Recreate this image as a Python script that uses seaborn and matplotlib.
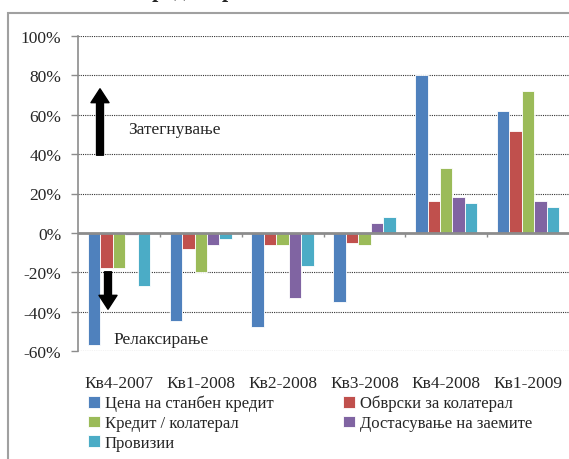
import pandas as pd
import matplotlib
matplotlib.use('Agg')
import matplotlib.pyplot as plt
from matplotlib.patches import Rectangle
from matplotlib.ticker import FuncFormatter
import seaborn as sns

# Podatoci
kvartali = ['Кв4-2007', 'Кв1-2008', 'Кв2-2008', 'Кв3-2008', 'Кв4-2008', 'Кв1-2009']
serii = ['Цена на станбен кредит', 'Обврски за колатерал', 'Кредит / колатерал',
         'Достасување на заемите', 'Провизии']
cena = [-57, -45, -48, -35, 80, 62]
obvrski = [-18, -8, -6, -5, 16, 52]
kredit_kol = [-18, -20, -6, -6, 33, 72]
dostasuvanje = [-1, -6, -33, 5, 18, 16]
provizii = [-27, -3, -17, 8, 15, 13]
boi = ['#4F81BD', '#C0504D', '#9BBB59', '#8064A2', '#4BACC6']

redovi = []
for s, vals in zip(serii, [cena, obvrski, kredit_kol, dostasuvanje, provizii]):
    for k, v in zip(kvartali, vals):
        redovi.append({'kvartal': k, 'serija': s, 'vrednost': v})
df = pd.DataFrame(redovi)

sns.set_style('white')
plt.rcParams['font.family'] = ['Liberation Serif', 'DejaVu Serif']

fig = plt.figure(figsize=(5.69, 4.60), dpi=100)
ax = fig.add_axes([78 / 569, 1 - 352 / 460, 1 - 78 / 569, (352 - 37) / 460])

sns.barplot(data=df, x='kvartal', y='vrednost', hue='serija', order=kvartali,
            hue_order=serii, palette=boi, width=0.76, saturation=1,
            edgecolor='white', linewidth=0.6, ax=ax)

ax.set_ylim(-60, 100)
ax.set_xlim(-0.5, 5.5)
ax.set_yticks(range(-60, 101, 20))
ax.yaxis.set_major_formatter(FuncFormatter(lambda v, p: f'{int(v)}%'))
for y in range(-60, 101, 20):
    if y != 0:
        ax.axhline(y, color='#333333', lw=0.8, ls=(0, (1, 1)), zorder=0)
ax.axhline(0, color='#8C8C8C', lw=2, zorder=3)
ax.vlines([0.5, 1.5, 2.5, 3.5, 4.5], -2, 0, color='#8C8C8C', lw=1, zorder=3)

for sp in ['top', 'right', 'bottom']:
    ax.spines[sp].set_visible(False)
ax.spines['left'].set_color('#8C8C8C')
ax.spines['left'].set_linewidth(1.2)
ax.tick_params(axis='y', length=5, width=1, color='#8C8C8C', labelsize=12.5, left=True, pad=7)
ax.tick_params(axis='x', length=0, pad=17, labelsize=12.5)
ax.set_xlabel('')
ax.set_ylabel('')

# Legenda, red po red
h, l = ax.get_legend_handles_labels()
red = [0, 2, 4, 1, 3]
ax.legend([h[i] for i in red], [l[i] for i in red],
          loc='upper left', bbox_to_anchor=(88 / 569, 1 - 396 / 460),
          bbox_transform=fig.transFigure, ncol=2, frameon=False, fontsize=12,
          handlelength=0.7, handleheight=0.7, handletextpad=0.3,
          columnspacing=4.2, labelspacing=0.22, borderaxespad=0, borderpad=0)

# Strelki i tekst
stil = 'simple,head_width=1.3,head_length=1.0,tail_width=0.5'
ax.annotate('', xy=(100, 373), xytext=(100, 301), xycoords='figure pixels',
            textcoords='figure pixels',
            arrowprops=dict(arrowstyle=stil, color='black', mutation_scale=10))
ax.annotate('', xy=(108, 147), xytext=(108, 190), xycoords='figure pixels',
            textcoords='figure pixels',
            arrowprops=dict(arrowstyle=stil, color='black', mutation_scale=10))
fig.text(128 / 569, 1 - 130 / 460, 'Затегнување', fontsize=12.5, va='center', ha='left')
fig.text(113 / 569, 1 - 340 / 460, 'Релаксирање', fontsize=12.5, va='center', ha='left')

# Ramka i naslov (isečen odgore)
fig.patches.append(Rectangle((8 / 569, -0.1), 1.2, 1 - 14 / 460 + 0.1,
                             transform=fig.transFigure, fill=False,
                             edgecolor='#A0A0A0', lw=1.5))
fig.text(205 / 569, 1 + 3 / 460, 'Кредитирање', fontsize=16, fontweight='bold',
         ha='center', va='baseline')

fig.savefig('out.png', dpi=100)
